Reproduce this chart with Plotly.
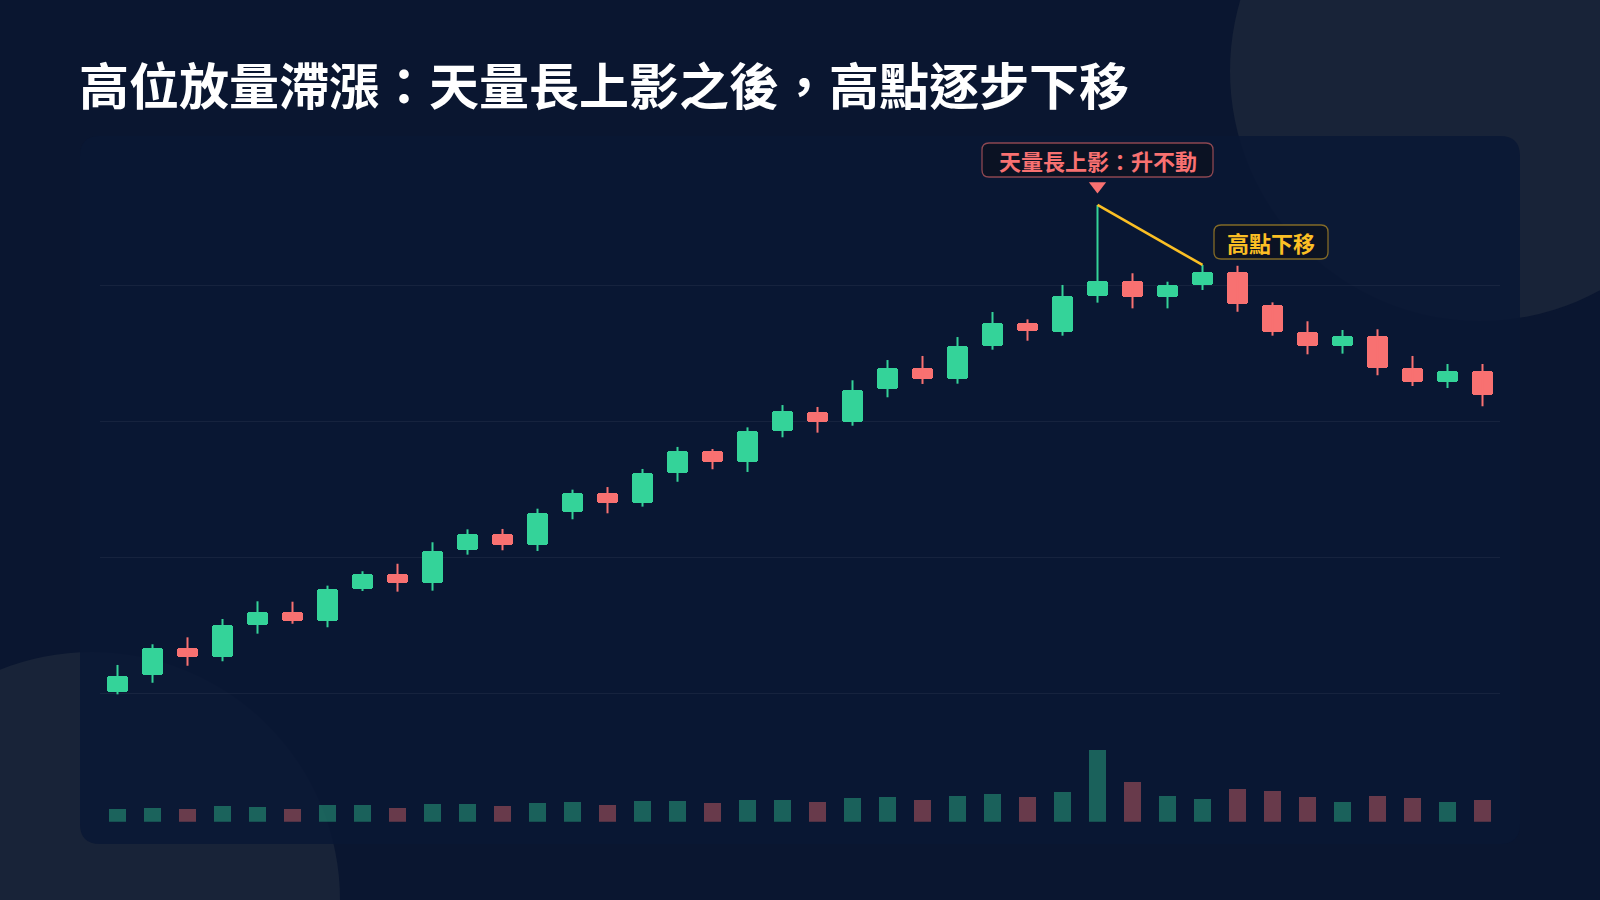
"""Candlestick chart: heavy-volume long upper shadow at the top, then lower highs."""
import plotly.graph_objects as go

W, H = 1600, 900

_BG = "#0a1630"
_CARD = "rgba(9,23,52,0.86)"
_BLOB = "#182338"
_GRID = "rgba(255,255,255,0.055)"
_UP = "#34d399"
_DOWN = "#f87171"
_UP_VOL = "rgba(52,211,153,0.40)"
_DOWN_VOL = "rgba(248,113,113,0.40)"
_GOLD = "#fbbf24"
_FONT = "Noto Sans CJK TC, Noto Sans CJK SC, sans-serif"

# --- data -----------------------------------------------------------------
days = list(range(40))
opens = [100.13, 101.34, 103.32, 102.66, 105.06, 105.97, 105.33, 107.71, 108.76, 108.13,
         110.53, 111.73, 110.92, 113.32, 114.76, 113.99, 116.24, 117.81, 117.04, 119.30,
         120.72, 119.94, 122.37, 123.93, 123.15, 125.53, 127.24, 126.60, 129.26, 130.33,
         129.13, 130.06, 130.97, 128.59, 126.60, 125.55, 126.31, 123.93, 122.88, 123.69]
closes = [101.31, 103.32, 102.68, 105.04, 105.97, 105.35, 107.71, 108.79, 108.13, 110.50,
          111.71, 110.90, 113.29, 114.76, 113.99, 116.21, 117.81, 117.04, 119.28, 120.75,
          119.96, 122.34, 123.93, 123.15, 125.53, 127.24, 126.63, 129.25, 130.32, 129.13,
          130.04, 130.97, 128.62, 126.60, 125.55, 126.31, 123.96, 122.88, 123.68, 121.95]
highs = [102.10, 103.62, 104.13, 105.48, 106.78, 106.75, 107.93, 108.99, 109.54, 111.12,
         112.07, 112.10, 113.59, 114.99, 115.18, 116.51, 118.13, 117.98, 119.57, 121.21,
         121.07, 123.03, 124.52, 124.82, 126.21, 128.05, 127.51, 130.04, 135.92, 130.90,
         130.28, 131.51, 131.45, 128.76, 127.37, 126.73, 126.78, 124.82, 124.23, 124.23]
lows = [99.94, 100.79, 102.04, 102.37, 104.40, 105.13, 104.87, 107.54, 107.49, 107.56,
        110.21, 110.53, 110.48, 112.81, 113.25, 113.74, 115.57, 116.49, 116.29, 118.84,
        119.18, 119.69, 121.78, 122.76, 122.78, 125.28, 125.94, 126.31, 128.74, 128.32,
        128.32, 129.67, 128.07, 126.31, 124.94, 124.99, 123.40, 122.61, 122.46, 121.12]
volumes = [1270, 1400, 1240, 1540, 1470, 1300, 1640, 1670, 1400, 1770,
           1800, 1570, 1870, 1970, 1700, 2040, 2100, 1840, 2170, 2200,
           1970, 2340, 2470, 2170, 2600, 2740, 2470, 3000, 7170, 3940,
           2600, 2270, 3270, 3100, 2470, 1970, 2600, 2370, 1970, 2200]

title = "高位放量滯漲：天量長上影之後，高點逐步下移"
spike_label = "天量長上影：升不動"
lower_high_label = "高點下移"
spike_day = 28
lower_high_day = 31
lower_label_day = 33

up = [c >= o for o, c in zip(opens, closes)]


def px(x, y):
    """pixel -> paper coords string"""
    return f"{x / W:.5f},{1 - y / H:.5f}"


def rounded_box(x0, y0, x1, y1, r):
    return (
        f"M{px(x0 + r, y0)} L{px(x1 - r, y0)} Q{px(x1, y0)} {px(x1, y0 + r)} "
        f"L{px(x1, y1 - r)} Q{px(x1, y1)} {px(x1 - r, y1)} "
        f"L{px(x0 + r, y1)} Q{px(x0, y1)} {px(x0, y1 - r)} "
        f"L{px(x0, y0 + r)} Q{px(x0, y0)} {px(x0 + r, y0)} Z"
    )


def wick_xy(flag):
    xs, ys = [], []
    for d, lo, hi, u in zip(days, lows, highs, up):
        if u == flag:
            xs += [d, d, None]
            ys += [lo, hi, None]
    return xs, ys


fig = go.Figure()

for flag, color in ((True, _UP), (False, _DOWN)):
    wx, wy = wick_xy(flag)
    fig.add_trace(go.Scatter(x=wx, y=wy, mode="lines",
                             line={"color": color, "width": 2},
                             showlegend=False, hoverinfo="skip"))

# gold line connecting the spike high to the lower high
fig.add_trace(go.Scatter(
    x=[spike_day, lower_high_day],
    y=[highs[spike_day], highs[lower_high_day]],
    mode="lines", line={"color": _GOLD, "width": 2.6},
    showlegend=False, hoverinfo="skip",
))
# red marker above the spike
fig.add_trace(go.Scatter(
    x=[spike_day], y=[highs[spike_day] + 1.4],
    mode="markers",
    marker={"symbol": "triangle-down", "size": 15, "color": _DOWN},
    showlegend=False, hoverinfo="skip",
))

fig.add_trace(go.Bar(
    x=days,
    y=[abs(c - o) for o, c in zip(opens, closes)],
    base=[min(o, c) for o, c in zip(opens, closes)],
    width=0.62,
    marker={"color": [_UP if u else _DOWN for u in up], "cornerradius": 3,
            "line": {"width": 0}},
    showlegend=False, hoverinfo="skip",
))

fig.add_trace(go.Bar(
    x=days, y=volumes, xaxis="x2", yaxis="y2", width=0.46,
    marker={"color": [_UP_VOL if u else _DOWN_VOL for u in up], "line": {"width": 0}},
    showlegend=False, hoverinfo="skip",
))

shapes = [
    dict(type="circle", xref="paper", yref="paper", layer="below",
         x0=(1480 - 250) / W, x1=(1480 + 250) / W,
         y0=1 - (71 + 250) / H, y1=1 - (71 - 250) / H,
         fillcolor=_BLOB, line={"width": 0}),
    dict(type="circle", xref="paper", yref="paper", layer="below",
         x0=(92 - 248) / W, x1=(92 + 248) / W,
         y0=1 - (900 + 248) / H, y1=1 - (900 - 248) / H,
         fillcolor=_BLOB, line={"width": 0}),
    dict(type="path", xref="paper", yref="paper", layer="below",
         path=rounded_box(80, 136, 1520, 844, 20),
         fillcolor=_CARD, line={"width": 0}),
    dict(type="path", xref="paper", yref="paper", layer="above",
         path=rounded_box(982, 143, 1213, 177, 7),
         fillcolor="rgba(12,18,34,0.92)",
         line={"color": "rgba(248,113,113,0.55)", "width": 1.3}),
    dict(type="path", xref="paper", yref="paper", layer="above",
         path=rounded_box(1214, 225, 1328, 259, 7),
         fillcolor="rgba(12,18,34,0.92)",
         line={"color": "rgba(251,191,36,0.50)", "width": 1.3}),
]

annotations = [
    dict(text=title, xref="paper", yref="paper", x=77 / W, y=1 - 83 / H,
         xanchor="left", yanchor="middle", showarrow=False,
         font={"family": _FONT, "size": 50, "color": "#ffffff", "weight": 700}),
    dict(text=spike_label, xref="x", yref="paper", x=spike_day, y=1 - 160 / H,
         xanchor="center", yanchor="middle", showarrow=False,
         font={"family": _FONT, "size": 22, "color": _DOWN, "weight": 700}),
    dict(text=lower_high_label, xref="x", yref="paper", x=lower_label_day - 0.03,
         y=1 - 242 / H, xanchor="center", yanchor="middle", showarrow=False,
         font={"family": _FONT, "size": 22, "color": _GOLD, "weight": 700}),
]

x_dom = [100 / W, 1500 / W]
fig.update_layout(
    width=W, height=H,
    margin={"l": 0, "r": 0, "t": 0, "b": 0},
    paper_bgcolor=_BG, plot_bgcolor="rgba(0,0,0,0)",
    font={"family": _FONT, "color": "#ffffff"},
    showlegend=False, hovermode=False, bargap=0,
    shapes=shapes, annotations=annotations,
    xaxis={"domain": x_dom, "range": [-0.5, 39.5], "visible": False, "anchor": "y"},
    xaxis2={"domain": x_dom, "range": [-0.5, 39.5], "visible": False,
            "anchor": "y2", "matches": "x"},
    yaxis={"domain": [1 - 710 / H, 1 - 170 / H],
           "range": [100 - 16.5 / 13.6, 100 + 523.5 / 13.6],
           "tickvals": [100, 110, 120, 130], "showticklabels": False,
           "gridcolor": _GRID, "gridwidth": 1, "zeroline": False,
           "showline": False, "ticks": ""},
    yaxis2={"domain": [1 - 821.7 / H, 1 - 740 / H], "range": [0, 8170],
            "visible": False, "showgrid": False, "zeroline": False},
)

# drop the browser's default body margin so the 1600x900 figure fills the window
fig.write_html(
    "out.html",
    config={"displayModeBar": False},
    post_script="document.body.style.margin='0';document.body.style.overflow='hidden';",
)
